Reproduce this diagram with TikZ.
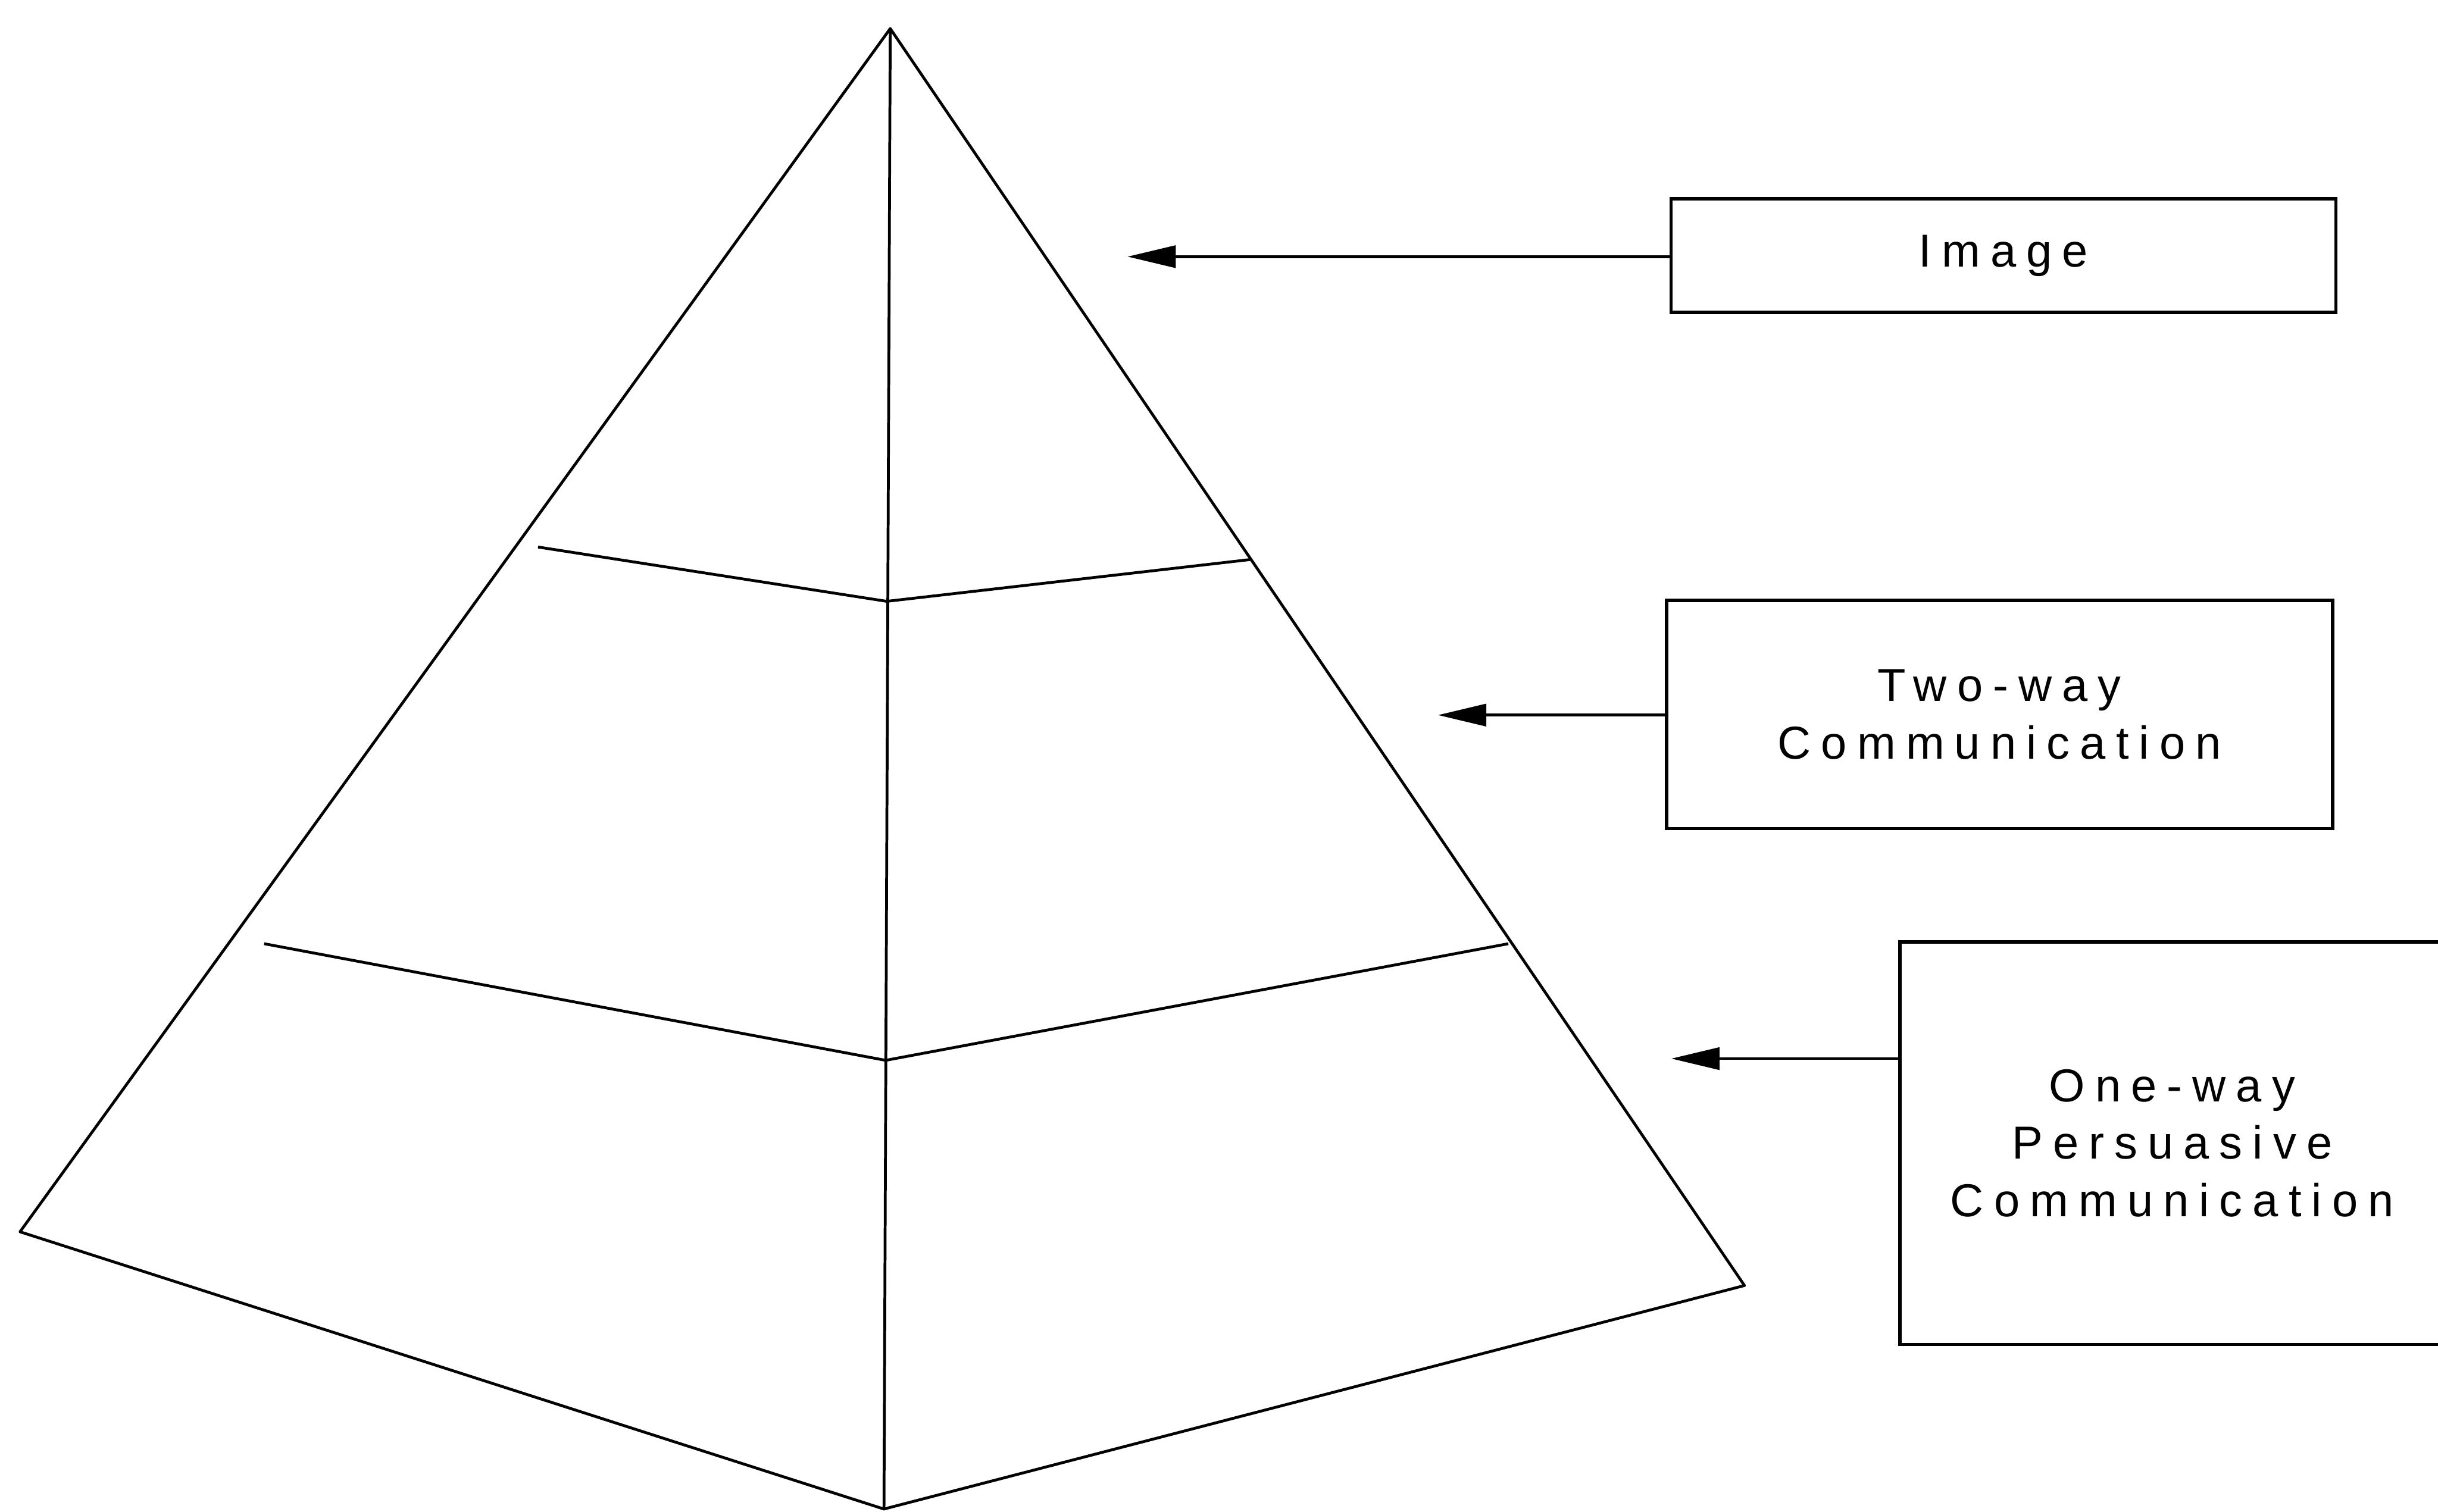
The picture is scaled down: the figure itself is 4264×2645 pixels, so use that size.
\documentclass[tikz,border=0pt]{standalone}
\usepackage{fontspec}
\setmainfont{Liberation Sans}[LetterSpace=22]
\usetikzlibrary{arrows.meta}
\begin{document}
\begin{tikzpicture}[x=0.01cm,y=-0.01cm,
  edge/.style={line width=1.4pt,line join=round},
  label/.style={draw,line width=1.7pt,align=center,inner sep=0pt,
    font=\fontsize{23pt}{28.5pt}\selectfont},
  arr/.style={line width=1.4pt,-{Triangle[length=24pt,width=11pt]}}]
\useasboundingbox (0,0) rectangle (4264,2645);
% pyramid
\coordinate (apex) at (1557,50);
\coordinate (lb) at (35,2155);
\coordinate (fb) at (1546,2640);
\coordinate (rb) at (3051,2249);
\coordinate (ul) at (941,957);
\coordinate (uc) at (1551,1052);
\coordinate (ur) at (2186,979);
\coordinate (ll) at (462,1651);
\coordinate (lc) at (1549,1855);
\coordinate (lr) at (2638,1651);
\draw[edge] (apex) -- (lb) -- (fb) -- (rb) -- cycle;
\draw[edge] (apex) -- (fb);
\draw[edge] (ul) -- (uc) -- (ur);
\draw[edge] (ll) -- (lc) -- (lr);
% boxes
\node[label,minimum width=11.62cm,minimum height=1.99cm] (img) at (3504,447) {Image};
\node[label,minimum width=11.64cm,minimum height=3.99cm] (two) at (3497,1250) {Two-way\\Communication};
\node[label,minimum width=9.52cm,minimum height=7.04cm] (one) at (3799,2000) {One-way\\Persuasive\\Communication};
% arrows
\coordinate (t1) at (1972,449);
\coordinate (t2) at (2515,1251);
\coordinate (t3) at (2923,1852);
\draw[arr] (img.west |- t1) -- (t1);
\draw[arr] (two.west |- t2) -- (t2);
\draw[arr] (one.west |- t3) -- (t3);
\end{tikzpicture}
\end{document}
